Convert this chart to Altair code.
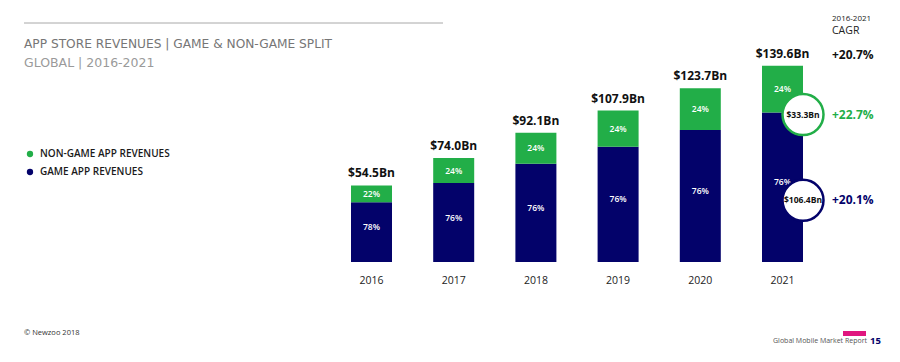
import altair as alt
import pandas as pd

# ---------------- data ----------------
years = [2016, 2017, 2018, 2019, 2020, 2021]
year_labels = ["2016", "2017", "2018", "2019", "2020", "2021"]
totals = [54.5, 74.0, 92.1, 107.9, 123.7, 139.6]
total_labels = ["$54.5Bn", "$74.0Bn", "$92.1Bn", "$107.9Bn", "$123.7Bn", "$139.6Bn"]
game = [42.5, 56.2, 70.0, 82.0, 94.0, 106.4]
non_game = [12.0, 17.8, 22.1, 25.9, 29.7, 33.3]
game_share = ["78%", "76%", "76%", "76%", "76%", "76%"]
non_game_share = ["22%", "24%", "24%", "24%", "24%", "24%"]
series_names = ["NON-GAME APP REVENUES", "GAME APP REVENUES"]
series_colors = ["#22ae48", "#03026a"]
cagr_period = "2016-2021"
cagr_total = "+20.7%"
cagr_non_game = "+22.7%"
cagr_game = "+20.1%"
non_game_2021_label = "$33.3Bn"
game_2021_label = "$106.4Bn"
title_text = "APP STORE REVENUES | GAME & NON-GAME SPLIT"
subtitle_text = "GLOBAL | 2016-2021"
footer_left = "© Newzoo 2018"
footer_right = "Global Mobile Market Report"
page_number = "15"

W, H = 884, 346
FONT = "Open Sans"

xs = alt.Scale(domain=[2016, 2021], range=[363.5, 774.5], padding=0, nice=False, zero=False)
ys = alt.Scale(domain=[0, 139.6], range=[254, 58], zero=False, nice=False)

# stacked segments (game at bottom, non-game on top)
rows = []
for i, yr in enumerate(years):
    rows.append(dict(year=yr, series=series_names[1], lo=0.0, hi=game[i],
                     share=game_share[i]))
    rows.append(dict(year=yr, series=series_names[0], lo=game[i], hi=game[i] + non_game[i],
                     share=non_game_share[i]))
seg = pd.DataFrame(rows)
seg["mid"] = (seg["lo"] + seg["hi"]) / 2

tot = pd.DataFrame({"year": years, "total": totals, "label": total_labels,
                    "ylab": year_labels})

X = alt.X("year:Q", scale=xs, axis=None)

bars = alt.Chart(seg).mark_bar(size=41).encode(
    x=X,
    y=alt.Y("lo:Q", scale=ys, axis=None),
    y2="hi:Q",
    color=alt.Color(
        "series:N",
        scale=alt.Scale(domain=series_names, range=series_colors),
        legend=alt.Legend(
            title=None, orient="none", legendX=17, legendY=141,
            symbolType="circle", symbolSize=40, symbolStrokeWidth=0,
            labelFont=FONT, labelFontSize=10, labelFontWeight=600,
            labelColor="#1a1a1a", labelOffset=5, rowPadding=8, padding=0,
        ),
    ),
)

pct_game = alt.Chart(seg[seg["series"] == series_names[1]]).mark_text(
    font=FONT, fontSize=8.5, fontWeight=600, color="white", dy=-5
).encode(x=X, y=alt.Y("mid:Q", scale=ys), text="share:N")

pct_non = alt.Chart(seg[seg["series"] == series_names[0]]).mark_text(
    font=FONT, fontSize=8.5, fontWeight=600, color="white"
).encode(x=X, y=alt.Y("mid:Q", scale=ys), text="share:N")

tot_text = alt.Chart(tot).mark_text(
    font=FONT, fontSize=12, fontWeight="bold", color="#111", dy=-12
).encode(x=X, y=alt.Y("total:Q", scale=ys), text="label:N")

year_text = alt.Chart(tot).mark_text(
    font=FONT, fontSize=10.5, color="#222"
).encode(x=X, y=alt.value(273), text="ylab:N")

# 2021 callout circles
c_non = pd.DataFrame({"year": [2021], "v": [game[-1]], "label": [non_game_2021_label]})
c_game = pd.DataFrame({"year": [2021], "v": [game[-1] / 2], "label": [game_2021_label]})

circ_non = alt.Chart(c_non).mark_point(
    shape="circle", size=1681, filled=True, fill="white", stroke=series_colors[0],
    strokeWidth=2.5, opacity=1, xOffset=20.5, yOffset=2
).encode(x=X, y=alt.Y("v:Q", scale=ys))
circ_non_t = alt.Chart(c_non).mark_text(
    font=FONT, fontSize=8.5, fontWeight="bold", color="#111", xOffset=20.5, yOffset=2
).encode(x=X, y=alt.Y("v:Q", scale=ys), text="label:N")

circ_game = alt.Chart(c_game).mark_point(
    shape="circle", size=1681, filled=True, fill="white", stroke=series_colors[1],
    strokeWidth=2.5, opacity=1, xOffset=20.5, yOffset=13
).encode(x=X, y=alt.Y("v:Q", scale=ys))
circ_game_t = alt.Chart(c_game).mark_text(
    font=FONT, fontSize=8.5, fontWeight="bold", color="#111", xOffset=20.5, yOffset=13
).encode(x=X, y=alt.Y("v:Q", scale=ys), text="label:N")


def label(text, x, y, size, color, weight="normal", align="left", font=FONT):
    return alt.Chart(pd.DataFrame({"t": [text]})).mark_text(
        font=font, fontSize=size, fontWeight=weight, color=color, align=align,
        baseline="middle"
    ).encode(x=alt.value(x), y=alt.value(y), text="t:N")


rule = alt.Chart(pd.DataFrame({"a": [0]})).mark_rule(color="#a8a8a8", strokeWidth=1).encode(
    x=alt.value(16), x2=alt.value(435), y=alt.value(15))

pink = alt.Chart(pd.DataFrame({"a": [0]})).mark_rect(color="#e0167f").encode(
    x=alt.value(835), x2=alt.value(858), y=alt.value(323), y2=alt.value(328))

texts = [
    label(title_text, 16, 35.5, 12.2, "#767676", font="DejaVu Sans"),
    label(subtitle_text, 16, 54.5, 12.5, "#9a9a9a", font="DejaVu Sans"),
    label(cagr_period, 824, 11, 8, "#222"),
    label("CAGR", 824, 23, 10.5, "#222"),
    label(cagr_total, 824, 47, 12, "#111", weight="bold"),
    label(cagr_non_game, 824, 107, 12, series_colors[0], weight="bold"),
    label(cagr_game, 824, 192, 12, series_colors[1], weight="bold"),
    label(footer_left, 16, 325, 7.5, "#333"),
    label(footer_right, 859, 333, 7, "#555", align="right"),
    label(page_number, 862, 333, 9.5, series_colors[1], weight="bold"),
]

chart = alt.layer(
    rule, pink, bars, pct_game, pct_non, tot_text, year_text,
    circ_non, circ_non_t, circ_game, circ_game_t, *texts
).properties(
    width=W, height=H, padding=0,
    autosize=alt.AutoSizeParams(type="none"),
    background="white",
).configure_view(stroke=None)

chart.save("out.html", embed_options={"renderer": "svg", "actions": False})
